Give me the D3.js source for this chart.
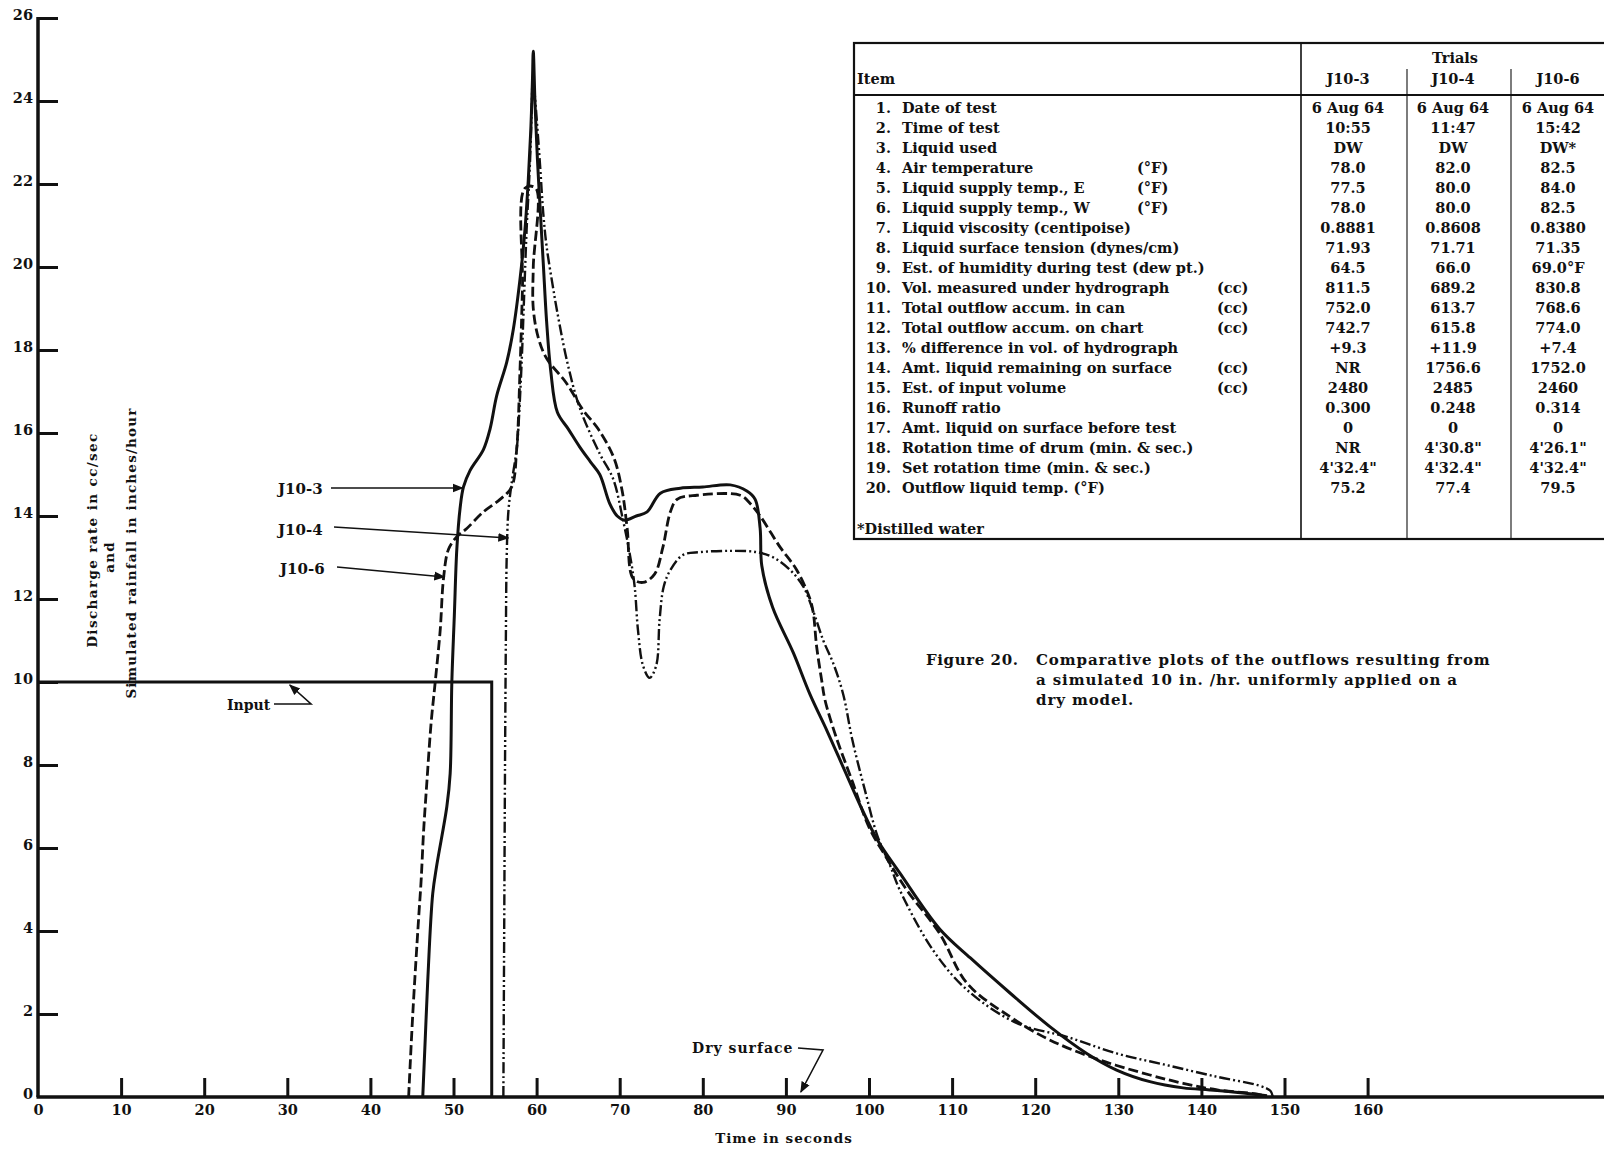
<!DOCTYPE html>
<html><head><meta charset="utf-8">
<script src="https://cdn.jsdelivr.net/npm/d3@7"></script>
<style>
body{margin:0;background:#fff;}
svg{display:block;}
text{font-family:"DejaVu Serif",serif;font-weight:bold;fill:#111;}
</style></head><body>
<script>
// ---------------- DATA ----------------
const xTickValues = [0,10,20,30,40,50,60,70,80,90,100,110,120,130,140,150,160];
const yTickValues = [0,2,4,6,8,10,12,14,16,18,20,22,24,26];

// Input (simulated rainfall, in/hr) : [time s, rate]
const inputSeries = [[0,10],[54.6,10],[54.6,0]];

// J10-3 (solid)
const j10_3 = [[46.3,0],[46.6,1.4],[46.9,2.8],[47.5,4.9],[48.0,5.6],[49.2,7.0],[49.6,7.8],[49.8,10.0],[50.1,11.6],[50.4,13.2],[50.8,14.2],[51.2,14.7],[52.0,15.1],[53.6,15.6],[54.4,16.1],[55.2,16.9],[56.4,17.7],[57.2,18.5],[58.0,19.7],[58.6,20.9],[59.0,22.1],[59.3,23.3],[59.5,24.5],[59.6,25.2],[59.8,24.0],[60.1,22.6],[60.4,21.5],[60.8,20.1],[61.2,18.7],[61.7,17.5],[62.5,16.5],[63.8,16.1],[65.2,15.66],[66.5,15.3],[67.6,15.0],[68.8,14.3],[69.7,14.0],[70.6,13.9],[72.0,14.0],[73.3,14.1],[74.9,14.55],[77.3,14.67],[80,14.7],[83.3,14.75],[85.3,14.6],[86.3,14.4],[86.9,13.7],[87.1,12.8],[88.4,11.8],[90.9,10.7],[92.9,9.7],[95,8.8],[97,7.9],[99,7.0],[101,6.2],[103.7,5.4],[108.5,4.05],[112.2,3.35],[117,2.5],[121.8,1.69],[126.2,1.05],[129.8,0.65],[133.8,0.37],[137.8,0.22],[141,0.17],[143.8,0.12],[147.9,0.03]];

// J10-4 (dash-dot-dot)
const j10_4 = [[56.0,0],[56.1,4],[56.2,8],[56.3,11],[56.4,13.0],[56.6,14.1],[57.0,14.8],[57.6,15.6],[57.8,16.1],[58.2,17.7],[58.5,19.3],[58.8,20.9],[59.2,22.5],[59.4,23.7],[59.55,24.6],[59.8,24.1],[60.4,22.5],[60.8,21.3],[61.2,20.5],[61.9,19.6],[62.5,18.9],[63.7,17.7],[65.2,16.6],[67.6,15.5],[69.2,14.9],[70.4,13.9],[71.2,13.1],[71.8,12.3],[72.2,11.25],[72.8,10.4],[73.6,10.1],[74.4,10.4],[74.8,11.5],[75.3,12.3],[76.1,12.7],[77.6,13.06],[79.7,13.13],[83.3,13.16],[86.5,13.13],[88.5,13.0],[90.5,12.7],[92.1,12.3],[93.3,11.7],[94.5,11.0],[95.7,10.45],[96.9,9.7],[98,8.6],[99.5,7.4],[101,6.3],[102.5,5.6],[103.7,4.99],[107.7,3.54],[111.8,2.58],[117.8,1.78],[123.8,1.45],[129.8,1.05],[135.8,0.77],[141.8,0.49],[147,0.27],[148.3,0.15],[148.6,0]];

// J10-6 (dashed)
const j10_6 = [[44.6,0],[45.1,2.0],[45.8,4.3],[46.1,5.2],[46.4,6.4],[46.8,7.6],[47.3,9.0],[47.8,10.0],[48.4,11.25],[48.8,12.5],[49.4,13.2],[50.4,13.5],[51.6,13.7],[53.6,14.1],[55.6,14.4],[57.0,14.7],[57.6,15.6],[58.0,17.5],[58.3,19.5],[58.6,21.9],[59.9,21.9],[59.6,20.0],[59.6,19.0],[60.2,18.3],[61.2,17.8],[63.6,17.2],[65.6,16.55],[67.4,16.1],[69.3,15.4],[70.3,14.6],[70.9,13.7],[71.6,12.5],[72.8,12.4],[74.2,12.6],[75.2,13.25],[76.1,14.1],[76.9,14.4],[79.3,14.5],[84.5,14.5],[85.7,14.3],[86.9,14.0],[89.3,13.25],[91.3,12.7],[92.9,12.0],[93.3,11.66],[93.7,10.85],[94.3,10.05],[94.7,9.57],[96,8.7],[98,7.6],[100,6.5],[102,5.8],[104.5,5.0],[108.5,3.94],[111.8,2.74],[117,1.93],[121.8,1.37],[127.8,0.89],[133.8,0.53],[137.8,0.33],[141.9,0.17],[147,0.06],[147.8,0]];

// Table
const trialNames = ["J10-3","J10-4","J10-6"];
const itemLabels = ["Date of test","Time of test","Liquid used","Air temperature","Liquid supply temp., E","Liquid supply temp., W","Liquid viscosity (centipoise)","Liquid surface tension (dynes/cm)","Est. of humidity during test (dew pt.)","Vol. measured under hydrograph","Total outflow accum. in can","Total outflow accum. on chart","% difference in vol. of hydrograph","Amt. liquid remaining on surface","Est. of input volume","Runoff ratio","Amt. liquid on surface before test","Rotation time of drum (min. & sec.)","Set rotation time (min. & sec.)","Outflow liquid temp.  (°F)"];
const itemUnits = ["","","","(°F)","(°F)","(°F)","","","","(cc)","(cc)","(cc)","","(cc)","(cc)","","","","",""];
const valuesJ10_3 = ["6 Aug 64","10:55","DW","78.0","77.5","78.0","0.8881","71.93","64.5","811.5","752.0","742.7","+9.3","NR","2480","0.300","0","NR","4'32.4\"","75.2"];
const valuesJ10_4 = ["6 Aug 64","11:47","DW","82.0","80.0","80.0","0.8608","71.71","66.0","689.2","613.7","615.8","+11.9","1756.6","2485","0.248","0","4'30.8\"","4'32.4\"","77.4"];
const valuesJ10_6 = ["6 Aug 64","15:42","DW*","82.5","84.0","82.5","0.8380","71.35","69.0°F","830.8","768.6","774.0","+7.4","1752.0","2460","0.314","0","4'26.1\"","4'32.4\"","79.5"];

const captionLines = ["Comparative plots of the outflows resulting from","a simulated 10 in. /hr. uniformly applied on a","dry model."];

// ---------------- DRAW ----------------
const W = 1604, H = 1149;
const svg = d3.select("body").append("svg").attr("width", W).attr("height", H);
svg.append("rect").attr("width", W).attr("height", H).attr("fill", "#fff");

const x = d3.scaleLinear().domain([0, 160]).range([38, 38 + 160 * 8.31]);
const y = d3.scaleLinear().domain([0, 26]).range([1097, 1097 - 26 * 41.5]);

const defs = svg.append("defs");
defs.append("marker").attr("id", "arr").attr("viewBox", "0 0 10 10")
  .attr("refX", 9).attr("refY", 5).attr("markerWidth", 7).attr("markerHeight", 7)
  .attr("orient", "auto").append("path").attr("d", "M0,1 L10,5 L0,9 Z").attr("fill", "#111");

const FONT = '"DejaVu Serif", serif';

// X axis
const gx = svg.append("g").attr("transform", `translate(0,${y(0)})`)
  .call(d3.axisBottom(x).tickValues(xTickValues).tickSizeInner(-19).tickSizeOuter(0).tickPadding(8));
gx.select(".domain").remove();
gx.attr("font-family", FONT).attr("font-size", 14.5).attr("font-weight", "bold");
gx.selectAll(".tick line").attr("stroke", "#111").attr("stroke-width", 3);
gx.selectAll(".tick").filter(d => d === 0).select("line").remove();
gx.selectAll(".tick text").attr("fill", "#111");

// Y axis
const gy = svg.append("g").attr("transform", `translate(${x(0)},0)`)
  .call(d3.axisLeft(y).tickValues(yTickValues).tickSizeInner(-20).tickSizeOuter(0).tickPadding(5));
gy.select(".domain").remove();
gy.attr("font-family", FONT).attr("font-size", 14.5).attr("font-weight", "bold");
gy.selectAll(".tick line").attr("stroke", "#111").attr("stroke-width", 3);
gy.selectAll(".tick").filter(d => d === 0).select("line").remove();
gy.selectAll(".tick text").attr("fill", "#111").attr("dy", "0.1em");

// axis lines
svg.append("line").attr("x1", x(0) - 1.5).attr("x2", W).attr("y1", y(0)).attr("y2", y(0))
  .attr("stroke", "#111").attr("stroke-width", 3.5);
svg.append("line").attr("x1", x(0)).attr("x2", x(0)).attr("y1", y(26) - 1).attr("y2", y(0))
  .attr("stroke", "#111").attr("stroke-width", 3.5);

// axis titles
svg.append("text").attr("x", 784).attr("y", 1143).attr("text-anchor", "middle")
  .attr("font-size", 13.5).attr("letter-spacing", 1).text("Time in seconds");
const yt = svg.append("g");
yt.append("text").attr("transform", "translate(97,540) rotate(-90)").attr("text-anchor", "middle")
  .attr("font-size", 13.5).attr("letter-spacing", 1.4).text("Discharge rate in cc/sec");
yt.append("text").attr("transform", "translate(114,557) rotate(-90)").attr("text-anchor", "middle")
  .attr("font-size", 13.5).attr("letter-spacing", 1.2).text("and");
yt.append("text").attr("transform", "translate(136,553) rotate(-90)").attr("text-anchor", "middle")
  .attr("font-size", 13.5).attr("letter-spacing", 1.2).text("Simulated rainfall in inches/hour");

// curves
const line = d3.line().x(d => x(d[0])).y(d => y(d[1])).curve(d3.curveCatmullRom.alpha(0.5));
const linLine = d3.line().x(d => x(d[0])).y(d => y(d[1]));

svg.append("path").attr("d", linLine(inputSeries)).attr("fill", "none")
  .attr("stroke", "#111").attr("stroke-width", 3);

const seriesDefs = [
  { data: j10_6, dash: "10,4", w: 2.8 },
  { data: j10_4, dash: "11,3,2,3,2,3", w: 2.4 },
  { data: j10_3, dash: null, w: 3 }
];
seriesDefs.forEach(s => {
  svg.append("path").attr("d", line(s.data)).attr("fill", "none")
    .attr("stroke", "#111").attr("stroke-width", s.w)
    .attr("stroke-dasharray", s.dash).attr("stroke-linejoin", "round");
});

// series labels with leaders
function leader(pts) {
  svg.append("path").attr("d", d3.line()(pts)).attr("fill", "none")
    .attr("stroke", "#111").attr("stroke-width", 1.6).attr("marker-end", "url(#arr)");
}
svg.append("text").attr("x", 278).attr("y", 494).attr("font-size", 15).text("J10-3");
leader([[331, 488], [x(51.1), 488]]);
svg.append("text").attr("x", 278).attr("y", 535).attr("font-size", 15).text("J10-4");
leader([[334, 527], [x(56.6), 538]]);
svg.append("text").attr("x", 280).attr("y", 574).attr("font-size", 15).text("J10-6");
leader([[337, 567], [x(48.9), 577]]);

svg.append("text").attr("x", 227).attr("y", 710).attr("font-size", 14).text("Input");
leader([[274, 704], [311, 704], [x(30.3), y(10) + 3]]);

svg.append("text").attr("x", 692).attr("y", 1053).attr("font-size", 14).attr("letter-spacing", 1).text("Dry surface");
leader([[798, 1048], [823, 1050], [x(91.8), y(0) - 5]]);

// caption
const cap = svg.append("g").attr("font-size", 15);
cap.append("text").attr("x", 926).attr("y", 665).attr("letter-spacing", 0.6).text("Figure 20.");
captionLines.forEach((t, i) => cap.append("text").attr("x", 1036).attr("y", 665 + i * 20)
  .attr("letter-spacing", 0.9).text(t));

// table
const tb = svg.append("g").attr("font-size", 14.5);
const tL = 854, tT = 43, tB = 539, tR = 1660, hB = 95, c0 = 1301, c1 = 1407, c2 = 1511;
tb.append("rect").attr("x", tL).attr("y", tT).attr("width", tR - tL).attr("height", tB - tT)
  .attr("fill", "none").attr("stroke", "#111").attr("stroke-width", 2.2);
tb.append("line").attr("x1", tL).attr("x2", tR).attr("y1", hB).attr("y2", hB).attr("stroke", "#111").attr("stroke-width", 2);
tb.append("line").attr("x1", c0).attr("x2", c0).attr("y1", tT).attr("y2", tB).attr("stroke", "#111").attr("stroke-width", 1.6);
[c1, c2].forEach(cx => tb.append("line").attr("x1", cx).attr("x2", cx).attr("y1", 69).attr("y2", tB)
  .attr("stroke", "#111").attr("stroke-width", 1.1));
tb.append("text").attr("x", 1455).attr("y", 63).attr("text-anchor", "middle").text("Trials");
tb.append("text").attr("x", 857).attr("y", 84).text("Item");
const colCenters = [1348, 1453, 1558];
trialNames.forEach((t, i) => tb.append("text").attr("x", colCenters[i]).attr("y", 84).attr("text-anchor", "middle").text(t));
const cols = [valuesJ10_3, valuesJ10_4, valuesJ10_6];
itemLabels.forEach((lab, i) => {
  const yb = 112.5 + i * 20.05;
  tb.append("text").attr("x", 891).attr("y", yb).attr("text-anchor", "end").text((i + 1) + ".");
  tb.append("text").attr("x", 902).attr("y", yb).text(lab);
  if (itemUnits[i]) {
    const ux = itemUnits[i] === "(cc)" ? 1217 : 1137;
    tb.append("text").attr("x", ux).attr("y", yb).text(itemUnits[i]);
  }
  cols.forEach((vals, c) => tb.append("text").attr("x", colCenters[c]).attr("y", yb)
    .attr("text-anchor", "middle").text(vals[i]));
});
tb.append("text").attr("x", 857).attr("y", 534).text("*Distilled water");
</script>
</body></html>
